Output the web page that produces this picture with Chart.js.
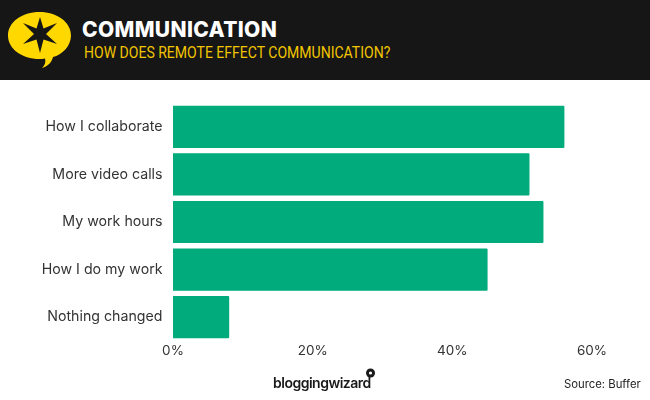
<!DOCTYPE html>
<html>
<head>
<meta charset="utf-8">
<script src="https://cdn.jsdelivr.net/npm/chart.js@4"></script>
<style>
  html, body { margin: 0; padding: 0; background: #fff; }
  #page { position: relative; width: 650px; height: 400px; overflow: hidden; }
  #bar-chart { position: absolute; left: 0; top: 0; }
  #header { position: absolute; left: 0; top: 0; width: 650px; height: 80px; background: #161616; }
  .txt { position: absolute; white-space: nowrap; }
  #title { left: 82px; top: 16px; color: #fff; font: 800 21px/28px Inter, sans-serif; letter-spacing: 0.35px; }
  #subtitle { left: 84px; top: 41px; color: #f2c500; font: 400 17px/22px Roboto, sans-serif; transform: scaleX(0.825); transform-origin: left top; }
  #logo { position: absolute; left: 8px; top: 11px; }
  #brand { left: 273px; top: 374px; color: #1a1a1a; font: 600 14px/18px Inter, sans-serif; letter-spacing: -0.5px; }
  #brand-dot { position: absolute; left: 365px; top: 368px; }
  #source { left: 564px; top: 376px; color: #222; font: 400 11.3px/16px Inter, sans-serif; }
</style>
</head>
<body>
<div id="page">
  <canvas id="bar-chart" width="650" height="400"></canvas>
  <div id="header">
    <svg id="logo" width="66" height="60" viewBox="0 0 66 60">
      <path d="M31.5 1 C49 1 63 11 63 24.5 C63 35 54 44 45 46 C44 51 40 55 34 57 C37 54 38 51 37 47.5 C35 48 33 48 31.5 48 C14 48 0 38 0 24.5 C0 11 14 1 31.5 1 Z" fill="#ffd800"/>
      <path d="M32 6 L35.5 17.5 L49 12 L38 23 L49 33 L35.5 28.5 L32 42 L28.5 28.5 L15 33 L26 23 L15 12 L28.5 17.5 Z" fill="#161616"/>
    </svg>
    <div class="txt" id="title">COMMUNICATION</div>
    <div class="txt" id="subtitle">HOW DOES REMOTE EFFECT COMMUNICATION?</div>
  </div>
  <div class="txt" id="brand">bloggingwizard</div>
  <svg id="brand-dot" width="11" height="11" viewBox="0 0 11 11">
    <circle cx="5.5" cy="5" r="4.5" fill="#1a1a1a"/><circle cx="5.5" cy="5" r="1.6" fill="#fff"/>
  </svg>
  <div class="txt" id="source">Source: Buffer</div>
</div>
<script>
var categories = ["How I collaborate", "More video calls", "My work hours", "How I do my work", "Nothing changed"];
var shares = [56, 51, 53, 45, 8];
var xTicks = [0, 20, 40, 60];

new Chart(document.getElementById("bar-chart"), {
    type: 'bar',
    data: {
      labels: categories,
      datasets: [
        {
          label: "Share",
          backgroundColor: '#02ab7b',
          borderRadius: 1,
          barThickness: 41.5,
          data: shares
        }
      ]
    },
    options: {
      indexAxis: 'y',
      responsive: false,
      animation: false,
      layout: { padding: { top: 103, right: 58, bottom: 41, left: 0 } },
      plugins: { legend: { display: false }, tooltip: { enabled: false } },
      scales: {
        x: {
          min: 0,
          max: 60,
          afterBuildTicks: function(axis) { axis.ticks = xTicks.map(function(v) { return { value: v }; }); },
          afterFit: function(axis) { axis.height = 18; },
          grid: { display: false, drawTicks: false },
          border: { display: false },
          ticks: {
            color: '#333',
            padding: 2,
            maxRotation: 0,
            font: { family: 'Inter', size: 13.5 },
            callback: function(v) { return v + '%'; }
          }
        },
        y: {
          afterFit: function(axis) { axis.width = 173; },
          grid: { display: false, drawTicks: false },
          border: { display: false },
          ticks: {
            color: '#333',
            padding: 10.5,
            font: { family: 'Inter', size: 14.2 }
          }
        }
      }
    }
});
</script>
</body>
</html>
